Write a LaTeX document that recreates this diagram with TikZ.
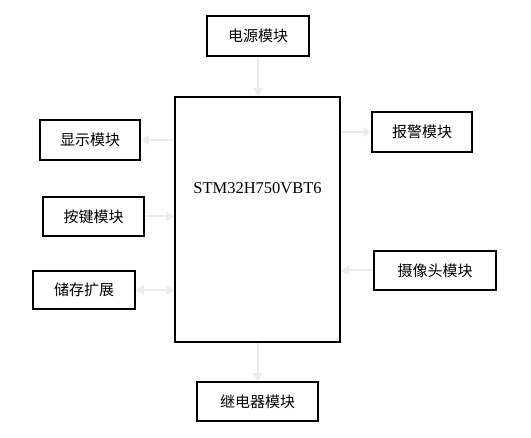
\documentclass[tikz,border=0pt]{standalone}
\usepackage{fontspec}
\usepackage{tikz}
\usetikzlibrary{arrows.meta}
\setmainfont{Liberation Serif}
\newfontfamily\cjk{Noto Sans CJK SC}
\definecolor{linkgray}{RGB}{236, 236, 236}

\begin{document}
\begin{tikzpicture}[x=1pt, y=-1pt,
    module/.style={draw, line width=1.5pt, inner sep=0pt, minimum height=40pt, font=\cjk\fontsize{15}{15}\selectfont},
    link/.style={draw=linkgray, line width=2pt, -{Triangle[length=8pt,width=9pt]}}]
\useasboundingbox (0,0) rectangle (531,438);

% Central item
\node[draw, line width=1.5pt, minimum width=165pt, minimum height=245pt, font=\fontsize{16.5}{16.5}\selectfont] (mcu) at (257.5,219.5) {};
\node at (257.5,188) {\fontsize{16.5}{16.5}\selectfont STM32H750VBT6};

% Modules around it
\node[module, minimum width=102pt] (power) at (258,36) {电源模块};
\node[module, minimum width=100pt] (display) at (90,140) {显示模块};
\node[module, minimum width=100pt] (alarm) at (422,132) {报警模块};
\node[module, minimum width=101pt, minimum height=39pt] (keys) at (93.5,216.5) {按键模块};
\node[module, minimum width=102pt, minimum height=38pt] (storage) at (84,290) {储存扩展};
\node[module, minimum width=122pt, minimum height=39pt] (camera) at (435,270.5) {摄像头模块};
\node[module, minimum width=121pt, minimum height=39pt] (relay) at (257.5,401.5) {继电器模块};

% Links
\draw[link] (power) -- (power |- mcu.north);
\draw[link] (display -| mcu.west) -- (display);
\draw[link] (alarm -| mcu.east) -- (alarm);
\draw[link] (keys) -- (keys -| mcu.west);
\draw[link, {Triangle[length=8pt,width=9pt]}-{Triangle[length=8pt,width=9pt]}] (storage) -- (storage -| mcu.west);
\draw[link] (camera) -- (camera -| mcu.east);
\draw[link] (relay |- mcu.south) -- (relay);
\end{tikzpicture}
\end{document}
